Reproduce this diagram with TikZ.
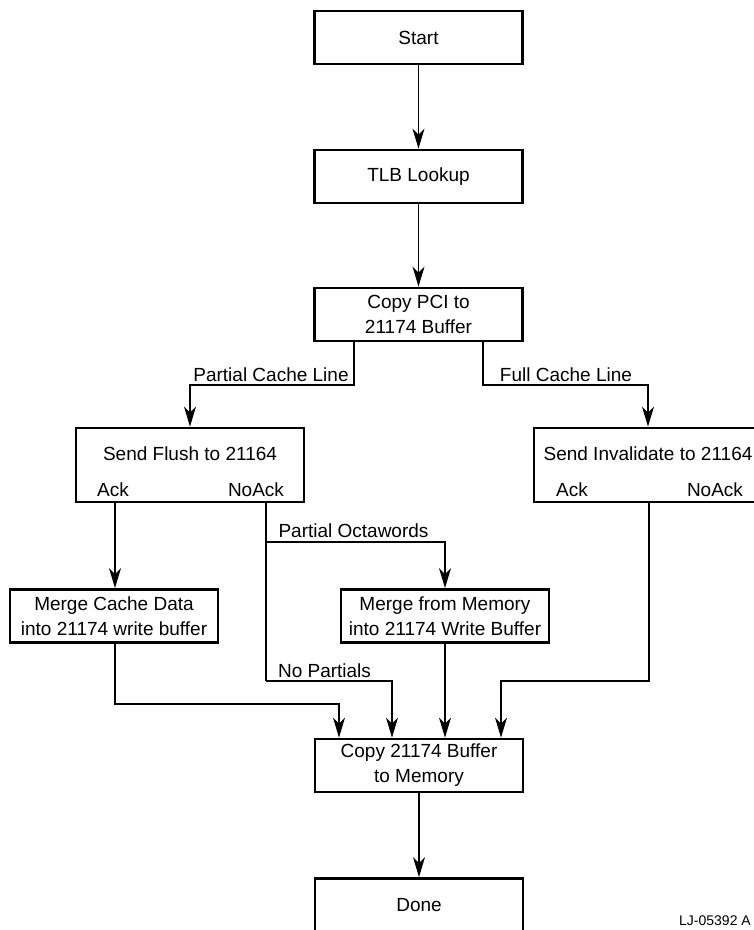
\documentclass[tikz,border=0pt]{standalone}
\usepackage{fontspec}
\setmainfont{Liberation Sans}
\usetikzlibrary{arrows.meta}
\begin{document}
\begin{tikzpicture}[x=1pt,y=-1pt,
  box/.style={draw, line width=2.8pt, minimum width=208pt, minimum height=53pt, inner sep=0pt, align=center, font=\fontsize{19}{25}\selectfont},
  widebox/.style={draw, line width=2.8pt, minimum width=228pt, minimum height=74pt, inner sep=0pt},
  lbl/.style={anchor=base, inner sep=0pt, font=\fontsize{19}{25}\selectfont},
  conn/.style={line width=1.3pt, -{Stealth[length=20pt,width=12pt,inset=6pt]}},
  plain/.style={line width=1.3pt}]
\clip (0,0) rectangle (754,930);
\fill[white] (0,0) rectangle (754,930);
% boxes
\node[box] (start) at (418.5,37.5) {Start};
\node[box] (tlb) at (418.5,176.5) {TLB Lookup};
\node[box] (pci) at (418.5,314.5) {Copy PCI to\\21174 Buffer};
\node[widebox] (flush) at (190,465) {};
\node[widebox] (inval) at (648,465) {};
\node[lbl] (flusht) at (190,460) {Send Flush to 21164};
\node[lbl] (flusha) at (113,496) {Ack};
\node[lbl] (flushn) at (256,496) {NoAck};
\node[lbl] (invalt) at (648,460) {Send Invalidate to 21164};
\node[lbl] (invala) at (572,496) {Ack};
\node[lbl] (invaln) at (715,496) {NoAck};
\node[box] (mcd) at (114,616) {Merge Cache Data\\into 21174 write buffer};
\node[box] (mfm) at (445,616) {Merge from Memory\\into 21174 Write Buffer};
\node[box] (c21) at (419,765.5) {Copy 21174 Buffer\\to Memory};
\node[box] (done) at (419,905) {Done};
% labels
\node[lbl] (pcl) at (271,381) {Partial Cache Line};
\node[lbl] (fcl) at (566,381) {Full Cache Line};
\node[lbl] (pow) at (353.5,537) {Partial Octawords};
\node[lbl] (nop) at (324.5,677) {No Partials};
\node[anchor=base east, inner sep=0pt, font=\fontsize{14}{17}\selectfont] (ref) at (751,925) {LJ-05392 A};
% bend points
\coordinate (pl) at (354,385);
\coordinate (fl) at (483,385);
\coordinate (na) at (266,502);
\coordinate (po) at (266,542);
\coordinate (np) at (266,681);
\coordinate (mc) at (115,704);
\coordinate (ia) at (649,681);
% connectors
\draw[conn] (start) -- (tlb);
\draw[conn] (tlb) -- (pci);
\draw[conn] (pci.south -| pl) -- (pl) -| (flush.north);
\draw[conn] (pci.south -| fl) -- (fl) -| (inval.north);
\draw[conn] (flush.south -| mc) -- (mcd.north -| mc);
\draw[plain] (na) -- (np);
\draw[conn] (po) -| (mfm.north);
\draw[conn] (np) -| ([xshift=-27pt]c21.north);
\draw[conn] (mcd.south -| mc) -- (mc) -| ([xshift=-80pt]c21.north);
\draw[conn] (mfm.south) -- (c21.north -| mfm.south);
\draw[conn] (inval.south -| ia) -- (ia) -| ([xshift=82pt]c21.north);
\draw[conn] (c21) -- (done);
\end{tikzpicture}
\end{document}
